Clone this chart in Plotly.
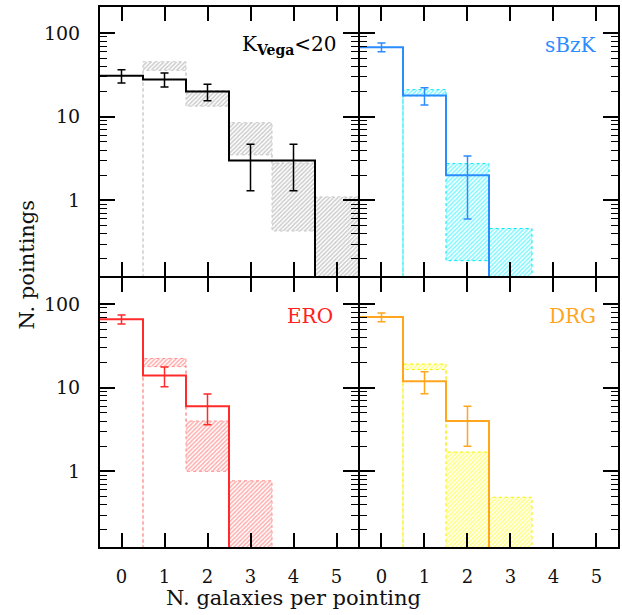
import plotly.graph_objects as go
from plotly.subplots import make_subplots

# ---------------- data ----------------
bins = [0, 1, 2, 3, 4, 5]

panel_names = ["K<sub><b>Vega</b></sub>&lt;20", "sBzK", "ERO", "DRG"]

# observed histograms (N. pointings per bin)
obs_K = [31, 28, 20, 3, 3, 0]
obs_sBzK = [68, 18, 2, 0, 0, 0]
obs_ERO = [66, 14, 6, 0, 0, 0]
obs_DRG = [70, 12, 4, 0, 0, 0]

# Poisson error bars (only for non-empty bins)
err_K = [5.6, 5.3, 4.5, 1.7, 1.7]
err_sBzK = [8.2, 4.2, 1.4]
err_ERO = [8.1, 3.7, 2.4]
err_DRG = [8.4, 3.5, 2.0]

# model ranges (upper / lower bound per bin)
up_K = [0, 45.5, 20.6, 8.5, 2.8, 1.1]
lo_K = [0, 35.9, 13.4, 3.5, 0.43, 0]
up_sBzK = [0, 21.1, 2.75, 0.46, 0, 0]
lo_sBzK = [0, 17.8, 0.19, 0, 0, 0]
up_ERO = [0, 22.4, 4.0, 0.77, 0, 0]
lo_ERO = [0, 17.9, 1.0, 0, 0, 0]
up_DRG = [0, 19.2, 1.7, 0.49, 0, 0]
lo_DRG = [0, 16.5, 0, 0, 0, 0]

x_ticks = [0, 1, 2, 3, 4, 5]
y_ticks = [1, 10, 100]
y_ticktext = ["1", "10", "100"]
y_minor = [0.2, 0.3, 0.4, 0.5, 0.6, 0.7, 0.8, 0.9,
           2, 3, 4, 5, 6, 7, 8, 9,
           20, 30, 40, 50, 60, 70, 80, 90, 200]

# ---------------- styles ----------------
FLOOR = 1e-3
FONT = "DejaVu Serif"
panels = [
    dict(obs=obs_K, err=err_K, up=up_K, lo=lo_K, line="#000000",
         fg="#9a9a9a", dot="#c8c8c8", row=1, col=1, lab_col="#000000"),
    dict(obs=obs_sBzK, err=err_sBzK, up=up_sBzK, lo=lo_sBzK, line="#2a8cff",
         fg="#00f0ff", dot="#00e8f0", row=1, col=2, lab_col="#2a8cff"),
    dict(obs=obs_ERO, err=err_ERO, up=up_ERO, lo=lo_ERO, line="#ff2a2a",
         fg="#ff5a5a", dot="#ff9090", row=2, col=1, lab_col="#ff2020"),
    dict(obs=obs_DRG, err=err_DRG, up=up_DRG, lo=lo_DRG, line="#ffa51e",
         fg="#ffff00", dot="#f5f000", row=2, col=2, lab_col="#ffa51e"),
]

fig = make_subplots(rows=2, cols=2, horizontal_spacing=2 / 520,
                    vertical_spacing=2 / 540)


def step_xy(vals):
    xs, ys = [], []
    for c, v in zip(bins, vals):
        v = v if v > 0 else FLOOR
        xs += [c - 0.5, c + 0.5]
        ys += [v, v]
    return xs, ys


for p in panels:
    r, c = p["row"], p["col"]
    # model band polygon
    ux, uy = step_xy(p["up"])
    lx, ly = step_xy(p["lo"])
    px = ux + lx[::-1] + [ux[0]]
    py = uy + ly[::-1] + [uy[0]]
    fig.add_trace(go.Scatter(
        x=px, y=py, mode="lines", fill="toself",
        fillcolor="rgba(255,255,255,0)",
        fillpattern=dict(shape="/", fgcolor=p["fg"], bgcolor="white",
                         size=3, solidity=0.5),
        line=dict(color=p["dot"], width=1, dash="dot"),
        showlegend=False, hoverinfo="skip"), row=r, col=c)
    # observed histogram
    sx, sy = step_xy(p["obs"])
    fig.add_trace(go.Scatter(
        x=sx, y=sy, mode="lines", line=dict(color=p["line"], width=2),
        showlegend=False), row=r, col=c)
    # error bars
    n = len(p["err"])
    fig.add_trace(go.Scatter(
        x=bins[:n], y=p["obs"][:n], mode="markers",
        marker=dict(size=1, color="rgba(0,0,0,0)"),
        error_y=dict(type="data", array=p["err"], color=p["line"],
                     thickness=1.5, width=4),
        showlegend=False), row=r, col=c)

for r in (1, 2):
    for c in (1, 2):
        fig.update_xaxes(
            row=r, col=c, range=[-0.5, 5.5], tickmode="array",
            tickvals=x_ticks, ticks="inside", ticklen=14, tickwidth=1.5,
            tickcolor="black", showline=True, linewidth=2, linecolor="black",
            mirror="allticks", showgrid=False, zeroline=False,
            showticklabels=(r == 2), ticklabelstandoff=12,
            tickfont=dict(family=FONT, size=18, color="#111111"))
        fig.update_yaxes(
            row=r, col=c, type="log", range=[-0.905, 2.313],
            tickmode="array", tickvals=y_ticks, ticktext=y_ticktext,
            ticks="inside", ticklen=15, tickwidth=1.5, tickcolor="black",
            minor=dict(tickmode="array", tickvals=y_minor, ticks="inside",
                       ticklen=7, tickwidth=1.2, tickcolor="black"),
            showline=True, linewidth=2, linecolor="black",
            mirror="allticks", showgrid=False, zeroline=False,
            showticklabels=(c == 1), ticklabelstandoff=14,
            tickfont=dict(family=FONT, size=19, color="#111111"))

# panel labels
label_pos = {(1, 1): ("x domain", "y domain", 0.925),
             (1, 2): ("x2 domain", "y2 domain", 0.923),
             (2, 1): ("x3 domain", "y3 domain", 0.91),
             (2, 2): ("x4 domain", "y4 domain", 0.923)}
for name, p in zip(panel_names, panels):
    xr, yr, xx = label_pos[(p["row"], p["col"])]
    fig.add_annotation(xref=xr, yref=yr, x=xx, y=0.86, text=name,
                       showarrow=False, xanchor="right", yanchor="middle",
                       font=dict(family=FONT, size=20, color=p["lab_col"]))

fig.add_annotation(xref="paper", yref="paper", x=0.373, y=-0.094,
                   text="N. galaxies per pointing", showarrow=False,
                   xanchor="center", yanchor="middle",
                   font=dict(family=FONT, size=21, color="#111111"))
fig.add_annotation(xref="paper", yref="paper", x=-0.140, y=0.524,
                   text="N. pointings", showarrow=False, textangle=-90,
                   xanchor="center", yanchor="middle",
                   font=dict(family=FONT, size=21, color="#111111"))

fig.update_layout(width=622, height=615,
                  margin=dict(l=100, r=2, t=7, b=68),
                  paper_bgcolor="white", plot_bgcolor="white",
                  showlegend=False)

fig.write_html("out.html")
